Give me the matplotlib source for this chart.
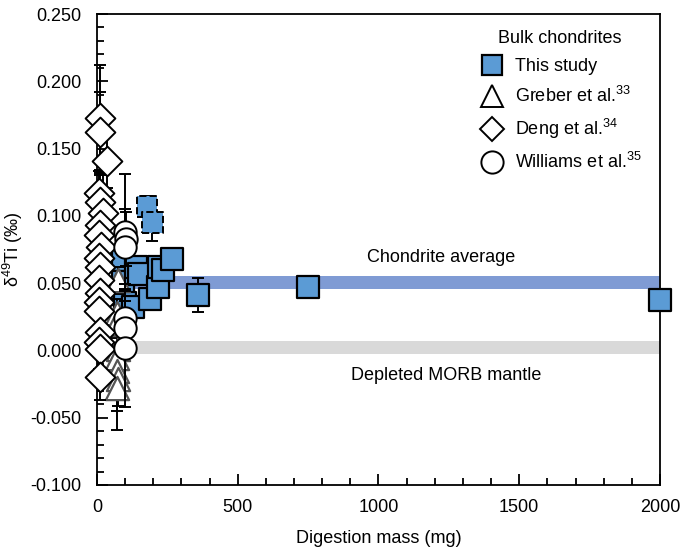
import numpy as np
import matplotlib.pyplot as plt
from matplotlib.lines import Line2D
from matplotlib.ticker import MultipleLocator, FormatStrFormatter

plt.rcParams['font.family'] = ['Liberation Sans', 'DejaVu Sans']
plt.rcParams['mathtext.fontset'] = 'custom'
plt.rcParams['mathtext.rm'] = 'Liberation Sans'
plt.rcParams['mathtext.default'] = 'regular'

# this study (bulk chondrites)
this_mass = [40, 70, 92, 92, 100, 128, 140, 150, 188, 215, 222, 236, 268, 359, 750, 2000]
this_d49 = [0.045, 0.042, 0.067, 0.051, 0.035, 0.032, 0.062, 0.057, 0.038, 0.047,
            0.062, 0.060, 0.068, 0.041, 0.047, 0.0375]
this_err = [0.004, 0.004, 0.005, 0.005, 0.006, 0.006, 0.005, 0.005, 0.005, 0.005,
            0.006, 0.006, 0.006, 0.0125, 0.005, 0.004]
# excluded samples (dashed outline)
excl_mass = [178, 197]
excl_d49 = [0.107, 0.095]
excl_err = [0.008, 0.014]

greber_mass = [75, 72, 68, 75, 72, 70, 75, 72]
greber_d49 = [0.052, 0.028, 0.020, 0.001, -0.006, -0.015, -0.021, -0.028]
greber_err = [0.010, 0.010, 0.010, 0.015, 0.015, 0.030, 0.020, 0.031]

deng_mass = [10, 10, 36, 8, 12, 20, 12, 8, 15, 8, 12, 8, 12, 8, 8, 12, 8, 12, 10]
deng_d49 = [0.173, 0.162, 0.141, 0.117, 0.110, 0.102, 0.093, 0.086, 0.077, 0.069,
            0.062, 0.052, 0.043, 0.036, 0.029, 0.014, 0.006, 0.001, -0.020]
deng_err = [0.039, 0.030, 0.020, 0.016, 0.020, 0.030, 0.025, 0.020, 0.030, 0.020,
            0.025, 0.020, 0.020, 0.025, 0.020, 0.020, 0.020, 0.015, 0.017]

will_mass = [100, 102, 100, 100, 100, 100]
will_d49 = [0.088, 0.083, 0.077, 0.024, 0.017, 0.002]
will_err = [0.043, 0.020, 0.028, 0.020, 0.020, 0.044]

chondrite_band = (0.0458, 0.0552)
morb_band = (-0.0025, 0.0070)

blue = '#5b9bd5'
fs = 13

fig = plt.figure(figsize=(6.82, 5.52), dpi=100)
ax = fig.add_axes([0.1422, 0.1214, 0.8255, 0.8532])

ax.fill_between([0, 2000], *chondrite_band, color='#7f9bd4', lw=0, zorder=1)
ax.fill_between([0, 2000], *morb_band, color='#d9d9d9', lw=0, zorder=1)

ax.text(1222, 0.0687, 'Chondrite average', ha='center', va='center', fontsize=fs)
ax.text(1240, -0.019, 'Depleted MORB mantle', ha='center', va='center', fontsize=fs)

eb = dict(fmt='none', ecolor='black', elinewidth=1.4, capsize=4.5, capthick=1.4,
          clip_on=False)

ax.errorbar(this_mass, this_d49, yerr=this_err, zorder=2, **eb)
ax.errorbar(excl_mass, excl_d49, yerr=excl_err, zorder=2, **eb)
ax.scatter(this_mass, this_d49, marker='s', s=250, c=blue, edgecolors='black',
           linewidths=1.6, zorder=3, clip_on=False)
ax.scatter(excl_mass, excl_d49, marker='s', s=220, c=blue, edgecolors='black',
           linewidths=1.4, linestyles='--', zorder=3, clip_on=False)

ax.errorbar(greber_mass, greber_d49, yerr=greber_err, zorder=4, **eb)
ax.scatter(greber_mass, greber_d49, marker='^', s=280, c='white', edgecolors='#555555',
           linewidths=1.6, zorder=5, clip_on=False)

ax.errorbar(deng_mass, deng_d49, yerr=deng_err, zorder=6, **eb)
ax.scatter(deng_mass, deng_d49, marker='D', s=230, c='white', edgecolors='black',
           linewidths=1.4, zorder=7, clip_on=False)

ax.errorbar(will_mass, will_d49, yerr=will_err, zorder=8, **eb)
ax.scatter(will_mass, will_d49, marker='o', s=260, c='white', edgecolors='black',
           linewidths=1.4, zorder=9, clip_on=False)

ax.set_xlim(0, 2000)
ax.set_ylim(-0.1, 0.25)
ax.xaxis.set_major_locator(MultipleLocator(500))
ax.xaxis.set_minor_locator(MultipleLocator(100))
ax.yaxis.set_major_locator(MultipleLocator(0.05))
ax.yaxis.set_minor_locator(MultipleLocator(0.01))
ax.yaxis.set_major_formatter(FormatStrFormatter('%.3f'))
ax.tick_params(which='both', direction='in', top=False, right=False, labelsize=fs,
               width=1.3)
ax.tick_params(axis='y', pad=11)
ax.tick_params(axis='x', pad=10)
ax.tick_params(which='major', length=8)
ax.tick_params(which='minor', length=5)
for s in ax.spines.values():
    s.set_linewidth(1.3)

ax.set_xlabel('Digestion mass (mg)', fontsize=fs, labelpad=10)
ax.set_ylabel('δ$^{49}$Ti (‰)', fontsize=fs, labelpad=4)

handles = [
    Line2D([], [], ls='none', marker='s', ms=15, mfc=blue, mec='black', mew=1.6),
    Line2D([], [], ls='none', marker='^', ms=16, mfc='white', mec='black', mew=1.4),
    Line2D([], [], ls='none', marker='D', ms=12, mfc='white', mec='black', mew=1.4),
    Line2D([], [], ls='none', marker='o', ms=16, mfc='white', mec='black', mew=1.4),
]
labels = ['This study', 'Greber et al.$^{33}$', 'Deng et al.$^{34}$', 'Williams et al.$^{35}$']
leg = ax.legend(handles, labels, loc='upper left', bbox_to_anchor=(0.648, 1.0),
                frameon=False, fontsize=fs, title='Bulk chondrites', title_fontsize=fs,
                handletextpad=0.55, labelspacing=0.6, handlelength=1.5)

fig.savefig('out.png', dpi=100)
